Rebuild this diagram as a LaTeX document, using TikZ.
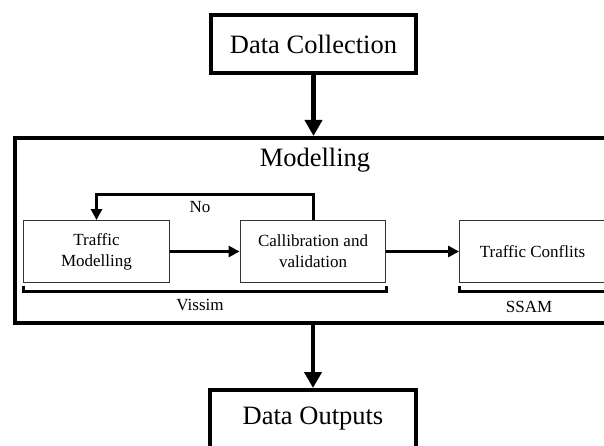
\documentclass[tikz,border=0pt]{standalone}
\usepackage{fontspec}
\setmainfont{Liberation Serif}
\usetikzlibrary{arrows.meta}
\begin{document}
\begin{tikzpicture}[
    x=1pt,y=-1pt,
    every node/.style={font=\fontsize{17}{21}\selectfont,inner sep=0pt},
    stage/.style={draw,line width=4pt,font=\fontsize{26.5}{30}\selectfont},
    tool/.style={draw=black!80,line width=1.4pt,minimum width=145.5pt,
        minimum height=61.5pt,align=center},
    bigarrow/.style={line width=4.5pt,-{Triangle[width=17pt,length=16pt]}},
    smallarrow/.style={line width=3pt,-{Triangle[width=11pt,length=11pt]}},
    bracket/.style={line width=3pt}]
    \useasboundingbox (0,0) rectangle (604,446);
    \clip (0,0) rectangle (604,446);
    \node[stage,minimum width=205pt,minimum height=58pt] (collect) at (313.5,44) {Data Collection};
    \node[stage,minimum width=605pt,minimum height=185pt] (model) at (317.5,230.5) {};
    \node[anchor=base,font=\fontsize{26.5}{30}\selectfont] (modlabel) at (315,167) {Modelling};
    \node[stage,minimum width=206pt,minimum height=58pt] (outputs) at (313,419) {Data Outputs};
    \node[tool] (traffic) at (96.5,251.5) {Traffic\\Modelling};
    \node[tool] (calib) at (313,251.5) {Callibration and\\validation};
    \node[tool] (conflict) at (532.5,251.5) {Traffic Conflits};
    \node (no) at (200,207) {No};
    \draw[bigarrow] (collect.south) -- (collect.south |- model.north);
    \draw[bigarrow] (outputs.north |- model.south) -- (outputs.north);
    \draw[smallarrow] (traffic) -- (calib);
    \draw[smallarrow] (calib) -- (conflict);
    \draw[smallarrow] (calib.north) -- ++(0,-26) -| (traffic.north);
    \draw[bracket] ([yshift=-3pt]traffic.south west) -- ([yshift=-9pt]traffic.south west)
        -- ([yshift=-9pt]calib.south east) -- ([yshift=-3pt]calib.south east);
    \draw[bracket] ([yshift=-3pt]conflict.south west) -- ([yshift=-9pt]conflict.south west)
        -- ([yshift=-9pt]conflict.south east) -- ([yshift=-3pt]conflict.south east);
    \node (vissim) at (200,305) {Vissim};
    \node (ssam) at (529,307) {SSAM};
\end{tikzpicture}
\end{document}
